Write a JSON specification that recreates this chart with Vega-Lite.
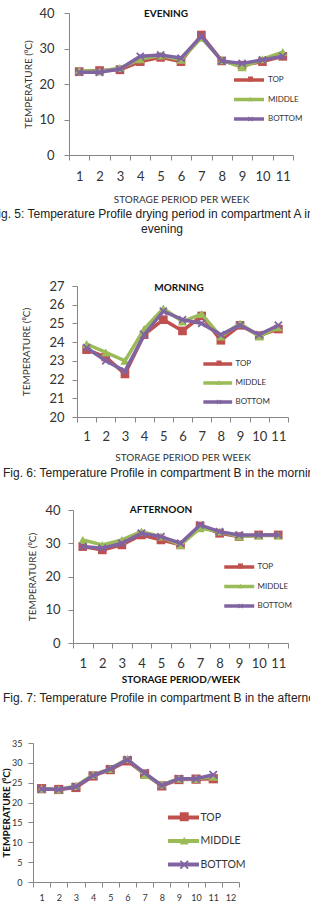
{
  "$schema": "https://vega.github.io/schema/vega-lite/v6.json",
  "padding": {"left": 0, "top": 7, "right": 0, "bottom": 0},
  "config": {
    "view": {"stroke": null},
    "font": "Lato",
    "axis": {"domainColor": "#868686", "tickColor": "#868686", "labelColor": "#333333", "titleColor": "#333333", "labelFont": "Lato", "titleFont": "Lato", "grid": false},
    "legend": {"labelFont": "Lato", "labelColor": "#333333"}
  },
  "datasets": {
    "evening": [
      {"week": 1, "series": "TOP", "temp": 23.5}, {"week": 1, "series": "MIDDLE", "temp": 23.8}, {"week": 1, "series": "BOTTOM", "temp": 23.3},
      {"week": 2, "series": "TOP", "temp": 23.8}, {"week": 2, "series": "MIDDLE", "temp": 23.5}, {"week": 2, "series": "BOTTOM", "temp": 23.3},
      {"week": 3, "series": "TOP", "temp": 24.0}, {"week": 3, "series": "MIDDLE", "temp": 24.5}, {"week": 3, "series": "BOTTOM", "temp": 24.2},
      {"week": 4, "series": "TOP", "temp": 26.3}, {"week": 4, "series": "MIDDLE", "temp": 27.0}, {"week": 4, "series": "BOTTOM", "temp": 27.8},
      {"week": 5, "series": "TOP", "temp": 27.5}, {"week": 5, "series": "MIDDLE", "temp": 28.0}, {"week": 5, "series": "BOTTOM", "temp": 28.2},
      {"week": 6, "series": "TOP", "temp": 26.3}, {"week": 6, "series": "MIDDLE", "temp": 26.8}, {"week": 6, "series": "BOTTOM", "temp": 27.3},
      {"week": 7, "series": "TOP", "temp": 33.8}, {"week": 7, "series": "MIDDLE", "temp": 33.0}, {"week": 7, "series": "BOTTOM", "temp": 33.5},
      {"week": 8, "series": "TOP", "temp": 26.5}, {"week": 8, "series": "MIDDLE", "temp": 26.7}, {"week": 8, "series": "BOTTOM", "temp": 26.5},
      {"week": 9, "series": "TOP", "temp": 25.3}, {"week": 9, "series": "MIDDLE", "temp": 24.7}, {"week": 9, "series": "BOTTOM", "temp": 25.8},
      {"week": 10, "series": "TOP", "temp": 26.3}, {"week": 10, "series": "MIDDLE", "temp": 27.0}, {"week": 10, "series": "BOTTOM", "temp": 26.8},
      {"week": 11, "series": "TOP", "temp": 27.8}, {"week": 11, "series": "MIDDLE", "temp": 29.0}, {"week": 11, "series": "BOTTOM", "temp": 27.8}
    ],
    "morning": [
      {"week": 1, "series": "TOP", "temp": 23.6}, {"week": 1, "series": "MIDDLE", "temp": 23.9}, {"week": 1, "series": "BOTTOM", "temp": 23.7},
      {"week": 2, "series": "TOP", "temp": 23.2}, {"week": 2, "series": "MIDDLE", "temp": 23.45}, {"week": 2, "series": "BOTTOM", "temp": 23.0},
      {"week": 3, "series": "TOP", "temp": 22.3}, {"week": 3, "series": "MIDDLE", "temp": 23.0}, {"week": 3, "series": "BOTTOM", "temp": 22.45},
      {"week": 4, "series": "TOP", "temp": 24.4}, {"week": 4, "series": "MIDDLE", "temp": 24.7}, {"week": 4, "series": "BOTTOM", "temp": 24.4},
      {"week": 5, "series": "TOP", "temp": 25.2}, {"week": 5, "series": "MIDDLE", "temp": 25.8}, {"week": 5, "series": "BOTTOM", "temp": 25.65},
      {"week": 6, "series": "TOP", "temp": 24.6}, {"week": 6, "series": "MIDDLE", "temp": 25.1}, {"week": 6, "series": "BOTTOM", "temp": 25.2},
      {"week": 7, "series": "TOP", "temp": 25.4}, {"week": 7, "series": "MIDDLE", "temp": 25.5}, {"week": 7, "series": "BOTTOM", "temp": 25.0},
      {"week": 8, "series": "TOP", "temp": 24.1}, {"week": 8, "series": "MIDDLE", "temp": 24.3}, {"week": 8, "series": "BOTTOM", "temp": 24.4},
      {"week": 9, "series": "TOP", "temp": 24.9}, {"week": 9, "series": "MIDDLE", "temp": 25.0}, {"week": 9, "series": "BOTTOM", "temp": 24.9},
      {"week": 10, "series": "TOP", "temp": 24.35}, {"week": 10, "series": "MIDDLE", "temp": 24.3}, {"week": 10, "series": "BOTTOM", "temp": 24.4},
      {"week": 11, "series": "TOP", "temp": 24.7}, {"week": 11, "series": "MIDDLE", "temp": 24.8}, {"week": 11, "series": "BOTTOM", "temp": 24.9}
    ],
    "afternoon": [
      {"week": 1, "series": "TOP", "temp": 29.0}, {"week": 1, "series": "MIDDLE", "temp": 31.0}, {"week": 1, "series": "BOTTOM", "temp": 29.0},
      {"week": 2, "series": "TOP", "temp": 28.0}, {"week": 2, "series": "MIDDLE", "temp": 29.5}, {"week": 2, "series": "BOTTOM", "temp": 28.5},
      {"week": 3, "series": "TOP", "temp": 29.5}, {"week": 3, "series": "MIDDLE", "temp": 31.0}, {"week": 3, "series": "BOTTOM", "temp": 30.0},
      {"week": 4, "series": "TOP", "temp": 32.5}, {"week": 4, "series": "MIDDLE", "temp": 33.5}, {"week": 4, "series": "BOTTOM", "temp": 33.0},
      {"week": 5, "series": "TOP", "temp": 31.0}, {"week": 5, "series": "MIDDLE", "temp": 32.0}, {"week": 5, "series": "BOTTOM", "temp": 32.0},
      {"week": 6, "series": "TOP", "temp": 29.5}, {"week": 6, "series": "MIDDLE", "temp": 29.5}, {"week": 6, "series": "BOTTOM", "temp": 30.0},
      {"week": 7, "series": "TOP", "temp": 35.2}, {"week": 7, "series": "MIDDLE", "temp": 34.5}, {"week": 7, "series": "BOTTOM", "temp": 35.5},
      {"week": 8, "series": "TOP", "temp": 33.0}, {"week": 8, "series": "MIDDLE", "temp": 33.5}, {"week": 8, "series": "BOTTOM", "temp": 33.5},
      {"week": 9, "series": "TOP", "temp": 32.0}, {"week": 9, "series": "MIDDLE", "temp": 32.0}, {"week": 9, "series": "BOTTOM", "temp": 32.5},
      {"week": 10, "series": "TOP", "temp": 32.5}, {"week": 10, "series": "MIDDLE", "temp": 32.3}, {"week": 10, "series": "BOTTOM", "temp": 32.5},
      {"week": 11, "series": "TOP", "temp": 32.5}, {"week": 11, "series": "MIDDLE", "temp": 32.3}, {"week": 11, "series": "BOTTOM", "temp": 32.5}
    ],
    "fig8": [
      {"week": 1, "series": "TOP", "temp": 23.5}, {"week": 1, "series": "MIDDLE", "temp": 23.5}, {"week": 1, "series": "BOTTOM", "temp": 23.4},
      {"week": 2, "series": "TOP", "temp": 23.3}, {"week": 2, "series": "MIDDLE", "temp": 23.3}, {"week": 2, "series": "BOTTOM", "temp": 23.3},
      {"week": 3, "series": "TOP", "temp": 23.8}, {"week": 3, "series": "MIDDLE", "temp": 24.2}, {"week": 3, "series": "BOTTOM", "temp": 24.0},
      {"week": 4, "series": "TOP", "temp": 26.7}, {"week": 4, "series": "MIDDLE", "temp": 27.0}, {"week": 4, "series": "BOTTOM", "temp": 26.8},
      {"week": 5, "series": "TOP", "temp": 28.3}, {"week": 5, "series": "MIDDLE", "temp": 28.5}, {"week": 5, "series": "BOTTOM", "temp": 28.5},
      {"week": 6, "series": "TOP", "temp": 30.5}, {"week": 6, "series": "MIDDLE", "temp": 31.0}, {"week": 6, "series": "BOTTOM", "temp": 30.8},
      {"week": 7, "series": "TOP", "temp": 27.2}, {"week": 7, "series": "MIDDLE", "temp": 27.0}, {"week": 7, "series": "BOTTOM", "temp": 27.5},
      {"week": 8, "series": "TOP", "temp": 24.2}, {"week": 8, "series": "MIDDLE", "temp": 24.5}, {"week": 8, "series": "BOTTOM", "temp": 24.3},
      {"week": 9, "series": "TOP", "temp": 25.8}, {"week": 9, "series": "MIDDLE", "temp": 26.0}, {"week": 9, "series": "BOTTOM", "temp": 26.0},
      {"week": 10, "series": "TOP", "temp": 25.9}, {"week": 10, "series": "MIDDLE", "temp": 26.0}, {"week": 10, "series": "BOTTOM", "temp": 26.0},
      {"week": 11, "series": "TOP", "temp": 26.0}, {"week": 11, "series": "MIDDLE", "temp": 26.5}, {"week": 11, "series": "BOTTOM", "temp": 27.0}
    ]
  },
  "spacing": 0,
  "resolve": {"scale": {"stroke": "independent", "fill": "independent", "shape": "independent"}},
  "vconcat": [
    {
      "spacing": 0,
      "resolve": {"scale": {"stroke": "independent", "fill": "independent", "shape": "independent"}},
      "hconcat": [
        {"width": 23, "height": 10, "data": {"values": []}, "mark": "point"},
        {
          "width": 224, "height": 142,
          "data": {"name": "evening"},
          "title": {"text": "EVENING", "frame": "group", "anchor": "middle", "offset": -17, "baseline": "middle", "dx": -15, "fontSize": 10, "fontWeight": "bold", "font": "Lato", "color": "#111111"},
          "encoding": {
            "x": {"field": "week", "type": "ordinal", "scale": {"type": "band", "domain": [1,2,3,4,5,6,7,8,9,10,11], "paddingInner": 0, "paddingOuter": 0},
                  "axis": {"title": "STORAGE PERIOD PER WEEK", "labelAngle": 0, "labelFontSize": 13, "labelPadding": 10, "tickBand": "extent", "tickSize": 5, "titleFontSize": 10, "titleFontWeight": "normal", "titlePadding": 11}},
            "y": {"field": "temp", "type": "quantitative", "scale": {"domain": [0, 40], "nice": false},
                  "axis": {"title": "TEMPERATURE (⁰C)", "values": [0,10,20,30,40], "labelFontSize": 13, "labelPadding": 10, "tickSize": 5, "titleFontSize": 10, "titleFontWeight": "normal", "titlePadding": 5}}
          },
          "layer": [
            {"transform": [{"filter": {"field": "series", "equal": "TOP"}}], "mark": {"type": "line", "strokeWidth": 3.5},
             "encoding": {"stroke": {"field": "series", "type": "nominal", "scale": {"domain": ["TOP","MIDDLE","BOTTOM"], "range": ["#C0504D","#9BBB59","#8064A2"]},
               "legend": {"title": null, "orient": "none", "legendX": 174, "legendY": 61, "symbolType": "M-3.75,0H3.75", "symbolSize": 64, "symbolStrokeWidth": 3.5, "labelFontSize": 8, "labelOffset": 13, "rowPadding": 5.5, "padding": 0}}}},
            {"transform": [{"filter": {"field": "series", "equal": "TOP"}}], "mark": {"type": "point", "filled": true, "size": 75, "opacity": 1},
             "encoding": {
               "fill": {"field": "series", "type": "nominal", "scale": {"domain": ["BOTTOM","MIDDLE","TOP"], "range": ["#8064A2","#9BBB59","#C0504D"]},
                 "legend": {"title": null, "orient": "none", "legendX": 177.5, "legendY": 62, "values": ["TOP","MIDDLE","BOTTOM"], "symbolSize": 25, "labelExpr": "''", "labelOpacity": 0, "labelFontSize": 8, "rowPadding": 12, "padding": 0, "symbolStrokeWidth": 0}},
               "shape": {"field": "series", "type": "nominal", "scale": {"domain": ["BOTTOM","MIDDLE","TOP"], "range": ["M-1,-0.7L-0.7,-1L0,-0.3L0.7,-1L1,-0.7L0.3,0L1,0.7L0.7,1L0,0.3L-0.7,1L-1,0.7L-0.3,0Z","triangle-up","square"]},
                 "legend": {"title": null, "orient": "none", "legendX": 177.5, "legendY": 62, "values": ["TOP","MIDDLE","BOTTOM"], "symbolSize": 25, "labelExpr": "''", "labelOpacity": 0, "labelFontSize": 8, "rowPadding": 12, "padding": 0, "symbolStrokeWidth": 0}}}},
            {"transform": [{"filter": {"field": "series", "equal": "MIDDLE"}}], "mark": {"type": "line", "strokeWidth": 3.5},
             "encoding": {"stroke": {"field": "series", "type": "nominal", "scale": {"domain": ["TOP","MIDDLE","BOTTOM"], "range": ["#C0504D","#9BBB59","#8064A2"]},
               "legend": {"title": null, "orient": "none", "legendX": 174, "legendY": 61, "symbolType": "M-3.75,0H3.75", "symbolSize": 64, "symbolStrokeWidth": 3.5, "labelFontSize": 8, "labelOffset": 13, "rowPadding": 5.5, "padding": 0}}}},
            {"transform": [{"filter": {"field": "series", "equal": "MIDDLE"}}], "mark": {"type": "point", "filled": true, "size": 85, "opacity": 1},
             "encoding": {
               "fill": {"field": "series", "type": "nominal", "scale": {"domain": ["BOTTOM","MIDDLE","TOP"], "range": ["#8064A2","#9BBB59","#C0504D"]},
                 "legend": {"title": null, "orient": "none", "legendX": 177.5, "legendY": 62, "values": ["TOP","MIDDLE","BOTTOM"], "symbolSize": 25, "labelExpr": "''", "labelOpacity": 0, "labelFontSize": 8, "rowPadding": 12, "padding": 0, "symbolStrokeWidth": 0}},
               "shape": {"field": "series", "type": "nominal", "scale": {"domain": ["BOTTOM","MIDDLE","TOP"], "range": ["M-1,-0.7L-0.7,-1L0,-0.3L0.7,-1L1,-0.7L0.3,0L1,0.7L0.7,1L0,0.3L-0.7,1L-1,0.7L-0.3,0Z","triangle-up","square"]},
                 "legend": {"title": null, "orient": "none", "legendX": 177.5, "legendY": 62, "values": ["TOP","MIDDLE","BOTTOM"], "symbolSize": 25, "labelExpr": "''", "labelOpacity": 0, "labelFontSize": 8, "rowPadding": 12, "padding": 0, "symbolStrokeWidth": 0}}}},
            {"transform": [{"filter": {"field": "series", "equal": "BOTTOM"}}], "mark": {"type": "line", "strokeWidth": 3.5},
             "encoding": {"stroke": {"field": "series", "type": "nominal", "scale": {"domain": ["TOP","MIDDLE","BOTTOM"], "range": ["#C0504D","#9BBB59","#8064A2"]},
               "legend": {"title": null, "orient": "none", "legendX": 174, "legendY": 61, "symbolType": "M-3.75,0H3.75", "symbolSize": 64, "symbolStrokeWidth": 3.5, "labelFontSize": 8, "labelOffset": 13, "rowPadding": 5.5, "padding": 0}}}},
            {"transform": [{"filter": {"field": "series", "equal": "BOTTOM"}}], "mark": {"type": "point", "filled": true, "size": 70, "opacity": 1},
             "encoding": {
               "fill": {"field": "series", "type": "nominal", "scale": {"domain": ["BOTTOM","MIDDLE","TOP"], "range": ["#8064A2","#9BBB59","#C0504D"]},
                 "legend": {"title": null, "orient": "none", "legendX": 177.5, "legendY": 62, "values": ["TOP","MIDDLE","BOTTOM"], "symbolSize": 25, "labelExpr": "''", "labelOpacity": 0, "labelFontSize": 8, "rowPadding": 12, "padding": 0, "symbolStrokeWidth": 0}},
               "shape": {"field": "series", "type": "nominal", "scale": {"domain": ["BOTTOM","MIDDLE","TOP"], "range": ["M-1,-0.7L-0.7,-1L0,-0.3L0.7,-1L1,-0.7L0.3,0L1,0.7L0.7,1L0,0.3L-0.7,1L-1,0.7L-0.3,0Z","triangle-up","square"]},
                 "legend": {"title": null, "orient": "none", "legendX": 177.5, "legendY": 62, "values": ["TOP","MIDDLE","BOTTOM"], "symbolSize": 25, "labelExpr": "''", "labelOpacity": 0, "labelFontSize": 8, "rowPadding": 12, "padding": 0, "symbolStrokeWidth": 0}}}}
          ]
        }
      ]
    },
    {
      "width": 310, "height": 76,
      "layer": [
        {"data": {"values": [{"t": "Fig. 5: Temperature Profile drying period in compartment A in the"}]},
         "mark": {"type": "text", "clip": true, "align": "left", "dx": -164, "dy": -28.5, "font": "Liberation Sans", "fontSize": 12, "color": "#222222"},
         "encoding": {"text": {"field": "t"}}},
        {"data": {"values": [{"t": "evening"}]},
         "mark": {"type": "text", "clip": true, "align": "center", "dx": 7, "dy": -13.5, "font": "Liberation Sans", "fontSize": 12, "color": "#222222"},
         "encoding": {"text": {"field": "t"}}}
      ]
    },
    {
      "spacing": 0,
      "resolve": {"scale": {"stroke": "independent", "fill": "independent", "shape": "independent"}},
      "hconcat": [
        {"width": 21, "height": 10, "data": {"values": []}, "mark": "point"},
        {
          "width": 211, "height": 131,
          "data": {"name": "morning"},
          "title": {"text": "MORNING", "frame": "group", "anchor": "middle", "offset": -18, "baseline": "middle", "dx": -3.5, "fontSize": 10, "fontWeight": "bold", "font": "Lato", "color": "#111111"},
          "encoding": {
            "x": {"field": "week", "type": "ordinal", "scale": {"type": "band", "domain": [1,2,3,4,5,6,7,8,9,10,11], "paddingInner": 0, "paddingOuter": 0},
                  "axis": {"title": "STORAGE PERIOD PER WEEK", "labelAngle": 0, "labelFontSize": 13, "labelPadding": 8.5, "tickBand": "extent", "tickSize": 5, "titleFontSize": 10, "titleFontWeight": "normal", "titlePadding": 9}},
            "y": {"field": "temp", "type": "quantitative", "scale": {"domain": [20, 27], "nice": false, "zero": false},
                  "axis": {"title": "TEMPERATURE (⁰C)", "values": [20,21,22,23,24,25,26,27], "labelFontSize": 13, "labelPadding": 8, "tickSize": 5, "titleFontSize": 10, "titleFontWeight": "normal", "titlePadding": 17}}
          },
          "layer": [
            {"transform": [{"filter": {"field": "series", "equal": "TOP"}}], "mark": {"type": "line", "strokeWidth": 3.5},
             "encoding": {"stroke": {"field": "series", "type": "nominal", "scale": {"domain": ["TOP","MIDDLE","BOTTOM"], "range": ["#C0504D","#9BBB59","#8064A2"]},
               "legend": {"title": null, "orient": "none", "legendX": 134.75, "legendY": 72, "symbolType": "M-3.6,0H3.6", "symbolSize": 64, "symbolStrokeWidth": 3.5, "labelFontSize": 8, "labelOffset": 11.75, "rowPadding": 5, "padding": 0}}}},
            {"transform": [{"filter": {"field": "series", "equal": "TOP"}}], "mark": {"type": "point", "filled": true, "size": 75, "opacity": 1},
             "encoding": {
               "fill": {"field": "series", "type": "nominal", "scale": {"domain": ["BOTTOM","MIDDLE","TOP"], "range": ["#8064A2","#9BBB59","#C0504D"]},
                 "legend": {"title": null, "orient": "none", "legendX": 138, "legendY": 73, "values": ["TOP","MIDDLE","BOTTOM"], "symbolSize": 25, "labelExpr": "''", "labelOpacity": 0, "labelFontSize": 8, "rowPadding": 11.5, "padding": 0, "symbolStrokeWidth": 0}},
               "shape": {"field": "series", "type": "nominal", "scale": {"domain": ["BOTTOM","MIDDLE","TOP"], "range": ["M-1,-0.7L-0.7,-1L0,-0.3L0.7,-1L1,-0.7L0.3,0L1,0.7L0.7,1L0,0.3L-0.7,1L-1,0.7L-0.3,0Z","triangle-up","square"]},
                 "legend": {"title": null, "orient": "none", "legendX": 138, "legendY": 73, "values": ["TOP","MIDDLE","BOTTOM"], "symbolSize": 25, "labelExpr": "''", "labelOpacity": 0, "labelFontSize": 8, "rowPadding": 11.5, "padding": 0, "symbolStrokeWidth": 0}}}},
            {"transform": [{"filter": {"field": "series", "equal": "MIDDLE"}}], "mark": {"type": "line", "strokeWidth": 3.5},
             "encoding": {"stroke": {"field": "series", "type": "nominal", "scale": {"domain": ["TOP","MIDDLE","BOTTOM"], "range": ["#C0504D","#9BBB59","#8064A2"]},
               "legend": {"title": null, "orient": "none", "legendX": 134.75, "legendY": 72, "symbolType": "M-3.6,0H3.6", "symbolSize": 64, "symbolStrokeWidth": 3.5, "labelFontSize": 8, "labelOffset": 11.75, "rowPadding": 5, "padding": 0}}}},
            {"transform": [{"filter": {"field": "series", "equal": "MIDDLE"}}], "mark": {"type": "point", "filled": true, "size": 85, "opacity": 1},
             "encoding": {
               "fill": {"field": "series", "type": "nominal", "scale": {"domain": ["BOTTOM","MIDDLE","TOP"], "range": ["#8064A2","#9BBB59","#C0504D"]},
                 "legend": {"title": null, "orient": "none", "legendX": 138, "legendY": 73, "values": ["TOP","MIDDLE","BOTTOM"], "symbolSize": 25, "labelExpr": "''", "labelOpacity": 0, "labelFontSize": 8, "rowPadding": 11.5, "padding": 0, "symbolStrokeWidth": 0}},
               "shape": {"field": "series", "type": "nominal", "scale": {"domain": ["BOTTOM","MIDDLE","TOP"], "range": ["M-1,-0.7L-0.7,-1L0,-0.3L0.7,-1L1,-0.7L0.3,0L1,0.7L0.7,1L0,0.3L-0.7,1L-1,0.7L-0.3,0Z","triangle-up","square"]},
                 "legend": {"title": null, "orient": "none", "legendX": 138, "legendY": 73, "values": ["TOP","MIDDLE","BOTTOM"], "symbolSize": 25, "labelExpr": "''", "labelOpacity": 0, "labelFontSize": 8, "rowPadding": 11.5, "padding": 0, "symbolStrokeWidth": 0}}}},
            {"transform": [{"filter": {"field": "series", "equal": "BOTTOM"}}], "mark": {"type": "line", "strokeWidth": 3.5},
             "encoding": {"stroke": {"field": "series", "type": "nominal", "scale": {"domain": ["TOP","MIDDLE","BOTTOM"], "range": ["#C0504D","#9BBB59","#8064A2"]},
               "legend": {"title": null, "orient": "none", "legendX": 134.75, "legendY": 72, "symbolType": "M-3.6,0H3.6", "symbolSize": 64, "symbolStrokeWidth": 3.5, "labelFontSize": 8, "labelOffset": 11.75, "rowPadding": 5, "padding": 0}}}},
            {"transform": [{"filter": {"field": "series", "equal": "BOTTOM"}}], "mark": {"type": "point", "filled": true, "size": 70, "opacity": 1},
             "encoding": {
               "fill": {"field": "series", "type": "nominal", "scale": {"domain": ["BOTTOM","MIDDLE","TOP"], "range": ["#8064A2","#9BBB59","#C0504D"]},
                 "legend": {"title": null, "orient": "none", "legendX": 138, "legendY": 73, "values": ["TOP","MIDDLE","BOTTOM"], "symbolSize": 25, "labelExpr": "''", "labelOpacity": 0, "labelFontSize": 8, "rowPadding": 11.5, "padding": 0, "symbolStrokeWidth": 0}},
               "shape": {"field": "series", "type": "nominal", "scale": {"domain": ["BOTTOM","MIDDLE","TOP"], "range": ["M-1,-0.7L-0.7,-1L0,-0.3L0.7,-1L1,-0.7L0.3,0L1,0.7L0.7,1L0,0.3L-0.7,1L-1,0.7L-0.3,0Z","triangle-up","square"]},
                 "legend": {"title": null, "orient": "none", "legendX": 138, "legendY": 73, "values": ["TOP","MIDDLE","BOTTOM"], "symbolSize": 25, "labelExpr": "''", "labelOpacity": 0, "labelFontSize": 8, "rowPadding": 11.5, "padding": 0, "symbolStrokeWidth": 0}}}}
          ]
        }
      ]
    },
    {
      "width": 310, "height": 41,
      "layer": [
        {"data": {"values": [{"t": "Fig. 6: Temperature Profile in compartment B in the morning"}]},
         "mark": {"type": "text", "clip": true, "align": "left", "dx": -152, "dy": -10.5, "font": "Liberation Sans", "fontSize": 12, "color": "#222222"},
         "encoding": {"text": {"field": "t"}}}
      ]
    },
    {
      "spacing": 0,
      "resolve": {"scale": {"stroke": "independent", "fill": "independent", "shape": "independent"}},
      "hconcat": [
        {"width": 27, "height": 10, "data": {"values": []}, "mark": "point"},
        {
          "width": 215, "height": 133,
          "data": {"name": "afternoon"},
          "title": {"text": "AFTERNOON", "frame": "group", "anchor": "middle", "offset": -16, "baseline": "middle", "dx": -19.5, "fontSize": 10, "fontWeight": "bold", "font": "Lato", "color": "#111111"},
          "encoding": {
            "x": {"field": "week", "type": "ordinal", "scale": {"type": "band", "domain": [1,2,3,4,5,6,7,8,9,10,11], "paddingInner": 0, "paddingOuter": 0},
                  "axis": {"title": "STORAGE PERIOD/WEEK", "labelAngle": 0, "labelFontSize": 13, "labelPadding": 9.5, "tickBand": "extent", "tickSize": 5, "titleFontSize": 10, "titleFontWeight": "bold", "titleColor": "#111111", "titlePadding": 3.5}},
            "y": {"field": "temp", "type": "quantitative", "scale": {"domain": [0, 40], "nice": false},
                  "axis": {"title": "TEMPERATURE (⁰C)", "values": [0,10,20,30,40], "labelFontSize": 13, "labelPadding": 8, "tickSize": 5, "titleFontSize": 10, "titleFontWeight": "normal", "titlePadding": 7}}
          },
          "layer": [
            {"transform": [{"filter": {"field": "series", "equal": "TOP"}}], "mark": {"type": "line", "strokeWidth": 3.5},
             "encoding": {"stroke": {"field": "series", "type": "nominal", "scale": {"domain": ["TOP","MIDDLE","BOTTOM"], "range": ["#C0504D","#9BBB59","#8064A2"]},
               "legend": {"title": null, "orient": "none", "legendX": 160.25, "legendY": 51, "symbolType": "M-3.75,0H3.75", "symbolSize": 64, "symbolStrokeWidth": 3.5, "labelFontSize": 8, "labelOffset": 12.25, "rowPadding": 5.5, "padding": 0}}}},
            {"transform": [{"filter": {"field": "series", "equal": "TOP"}}], "mark": {"type": "point", "filled": true, "size": 75, "opacity": 1},
             "encoding": {
               "fill": {"field": "series", "type": "nominal", "scale": {"domain": ["BOTTOM","MIDDLE","TOP"], "range": ["#8064A2","#9BBB59","#C0504D"]},
                 "legend": {"title": null, "orient": "none", "legendX": 163.5, "legendY": 52, "values": ["TOP","MIDDLE","BOTTOM"], "symbolSize": 25, "labelExpr": "''", "labelOpacity": 0, "labelFontSize": 8, "rowPadding": 12, "padding": 0, "symbolStrokeWidth": 0}},
               "shape": {"field": "series", "type": "nominal", "scale": {"domain": ["BOTTOM","MIDDLE","TOP"], "range": ["M-1,-0.7L-0.7,-1L0,-0.3L0.7,-1L1,-0.7L0.3,0L1,0.7L0.7,1L0,0.3L-0.7,1L-1,0.7L-0.3,0Z","triangle-up","square"]},
                 "legend": {"title": null, "orient": "none", "legendX": 163.5, "legendY": 52, "values": ["TOP","MIDDLE","BOTTOM"], "symbolSize": 25, "labelExpr": "''", "labelOpacity": 0, "labelFontSize": 8, "rowPadding": 12, "padding": 0, "symbolStrokeWidth": 0}}}},
            {"transform": [{"filter": {"field": "series", "equal": "MIDDLE"}}], "mark": {"type": "line", "strokeWidth": 3.5},
             "encoding": {"stroke": {"field": "series", "type": "nominal", "scale": {"domain": ["TOP","MIDDLE","BOTTOM"], "range": ["#C0504D","#9BBB59","#8064A2"]},
               "legend": {"title": null, "orient": "none", "legendX": 160.25, "legendY": 51, "symbolType": "M-3.75,0H3.75", "symbolSize": 64, "symbolStrokeWidth": 3.5, "labelFontSize": 8, "labelOffset": 12.25, "rowPadding": 5.5, "padding": 0}}}},
            {"transform": [{"filter": {"field": "series", "equal": "MIDDLE"}}], "mark": {"type": "point", "filled": true, "size": 85, "opacity": 1},
             "encoding": {
               "fill": {"field": "series", "type": "nominal", "scale": {"domain": ["BOTTOM","MIDDLE","TOP"], "range": ["#8064A2","#9BBB59","#C0504D"]},
                 "legend": {"title": null, "orient": "none", "legendX": 163.5, "legendY": 52, "values": ["TOP","MIDDLE","BOTTOM"], "symbolSize": 25, "labelExpr": "''", "labelOpacity": 0, "labelFontSize": 8, "rowPadding": 12, "padding": 0, "symbolStrokeWidth": 0}},
               "shape": {"field": "series", "type": "nominal", "scale": {"domain": ["BOTTOM","MIDDLE","TOP"], "range": ["M-1,-0.7L-0.7,-1L0,-0.3L0.7,-1L1,-0.7L0.3,0L1,0.7L0.7,1L0,0.3L-0.7,1L-1,0.7L-0.3,0Z","triangle-up","square"]},
                 "legend": {"title": null, "orient": "none", "legendX": 163.5, "legendY": 52, "values": ["TOP","MIDDLE","BOTTOM"], "symbolSize": 25, "labelExpr": "''", "labelOpacity": 0, "labelFontSize": 8, "rowPadding": 12, "padding": 0, "symbolStrokeWidth": 0}}}},
            {"transform": [{"filter": {"field": "series", "equal": "BOTTOM"}}], "mark": {"type": "line", "strokeWidth": 3.5},
             "encoding": {"stroke": {"field": "series", "type": "nominal", "scale": {"domain": ["TOP","MIDDLE","BOTTOM"], "range": ["#C0504D","#9BBB59","#8064A2"]},
               "legend": {"title": null, "orient": "none", "legendX": 160.25, "legendY": 51, "symbolType": "M-3.75,0H3.75", "symbolSize": 64, "symbolStrokeWidth": 3.5, "labelFontSize": 8, "labelOffset": 12.25, "rowPadding": 5.5, "padding": 0}}}},
            {"transform": [{"filter": {"field": "series", "equal": "BOTTOM"}}], "mark": {"type": "point", "filled": true, "size": 70, "opacity": 1},
             "encoding": {
               "fill": {"field": "series", "type": "nominal", "scale": {"domain": ["BOTTOM","MIDDLE","TOP"], "range": ["#8064A2","#9BBB59","#C0504D"]},
                 "legend": {"title": null, "orient": "none", "legendX": 163.5, "legendY": 52, "values": ["TOP","MIDDLE","BOTTOM"], "symbolSize": 25, "labelExpr": "''", "labelOpacity": 0, "labelFontSize": 8, "rowPadding": 12, "padding": 0, "symbolStrokeWidth": 0}},
               "shape": {"field": "series", "type": "nominal", "scale": {"domain": ["BOTTOM","MIDDLE","TOP"], "range": ["M-1,-0.7L-0.7,-1L0,-0.3L0.7,-1L1,-0.7L0.3,0L1,0.7L0.7,1L0,0.3L-0.7,1L-1,0.7L-0.3,0Z","triangle-up","square"]},
                 "legend": {"title": null, "orient": "none", "legendX": 163.5, "legendY": 52, "values": ["TOP","MIDDLE","BOTTOM"], "symbolSize": 25, "labelExpr": "''", "labelOpacity": 0, "labelFontSize": 8, "rowPadding": 12, "padding": 0, "symbolStrokeWidth": 0}}}}
          ]
        }
      ]
    },
    {
      "width": 310, "height": 55,
      "layer": [
        {"data": {"values": [{"t": "Fig. 7: Temperature Profile in compartment B in the afternoon"}]},
         "mark": {"type": "text", "clip": true, "align": "left", "dx": -152, "dy": -13.5, "font": "Liberation Sans", "fontSize": 12, "color": "#222222"},
         "encoding": {"text": {"field": "t"}}}
      ]
    },
    {
      "spacing": 0,
      "resolve": {"scale": {"stroke": "independent", "fill": "independent", "shape": "independent"}},
      "hconcat": [
        {"width": 1, "height": 10, "data": {"values": []}, "mark": "point"},
        {
          "width": 206, "height": 139,
          "data": {"name": "fig8"},
          "encoding": {
            "x": {"field": "week", "type": "ordinal", "scale": {"type": "band", "domain": [1,2,3,4,5,6,7,8,9,10,11,12], "paddingInner": 0, "paddingOuter": 0},
                  "axis": {"title": null, "labelAngle": 0, "labelFontSize": 9, "labelPadding": 6.5, "tickBand": "extent", "tickSize": 5}},
            "y": {"field": "temp", "type": "quantitative", "scale": {"domain": [0, 35], "nice": false},
                  "axis": {"title": "TEMPERATURE (⁰C)", "values": [0,5,10,15,20,25,30,35], "labelFontSize": 9, "labelPadding": 6, "tickSize": 5, "titleFontSize": 10, "titleFontWeight": "bold", "titleColor": "#111111", "titlePadding": 0}}
          },
          "layer": [
            {"transform": [{"filter": {"field": "series", "equal": "TOP"}}], "mark": {"type": "line", "strokeWidth": 3.5},
             "encoding": {"stroke": {"field": "series", "type": "nominal", "scale": {"domain": ["TOP","MIDDLE","BOTTOM"], "range": ["#C0504D","#9BBB59","#8064A2"]},
               "legend": {"title": null, "orient": "none", "legendX": 143.5, "legendY": 67.5, "symbolType": "M-3.1,0H3.1", "symbolSize": 100, "symbolStrokeWidth": 4, "labelFontSize": 10.5, "labelOffset": 10, "rowPadding": 7.5, "padding": 0}}}},
            {"transform": [{"filter": {"field": "series", "equal": "TOP"}}], "mark": {"type": "point", "filled": true, "size": 85, "opacity": 1},
             "encoding": {
               "fill": {"field": "series", "type": "nominal", "scale": {"domain": ["BOTTOM","MIDDLE","TOP"], "range": ["#8064A2","#9BBB59","#C0504D"]},
                 "legend": {"title": null, "orient": "none", "legendX": 146, "legendY": 68.5, "values": ["TOP","MIDDLE","BOTTOM"], "symbolSize": 80, "labelExpr": "''", "labelOpacity": 0, "labelFontSize": 10.5, "rowPadding": 13, "padding": 0, "symbolStrokeWidth": 0}},
               "shape": {"field": "series", "type": "nominal", "scale": {"domain": ["BOTTOM","MIDDLE","TOP"], "range": ["M-1,-0.7L-0.7,-1L0,-0.3L0.7,-1L1,-0.7L0.3,0L1,0.7L0.7,1L0,0.3L-0.7,1L-1,0.7L-0.3,0Z","triangle-up","square"]},
                 "legend": {"title": null, "orient": "none", "legendX": 146, "legendY": 68.5, "values": ["TOP","MIDDLE","BOTTOM"], "symbolSize": 80, "labelExpr": "''", "labelOpacity": 0, "labelFontSize": 10.5, "rowPadding": 13, "padding": 0, "symbolStrokeWidth": 0}}}},
            {"transform": [{"filter": {"field": "series", "equal": "MIDDLE"}}], "mark": {"type": "line", "strokeWidth": 3.5},
             "encoding": {"stroke": {"field": "series", "type": "nominal", "scale": {"domain": ["TOP","MIDDLE","BOTTOM"], "range": ["#C0504D","#9BBB59","#8064A2"]},
               "legend": {"title": null, "orient": "none", "legendX": 143.5, "legendY": 67.5, "symbolType": "M-3.1,0H3.1", "symbolSize": 100, "symbolStrokeWidth": 4, "labelFontSize": 10.5, "labelOffset": 10, "rowPadding": 7.5, "padding": 0}}}},
            {"transform": [{"filter": {"field": "series", "equal": "MIDDLE"}}], "mark": {"type": "point", "filled": true, "size": 90, "opacity": 1},
             "encoding": {
               "fill": {"field": "series", "type": "nominal", "scale": {"domain": ["BOTTOM","MIDDLE","TOP"], "range": ["#8064A2","#9BBB59","#C0504D"]},
                 "legend": {"title": null, "orient": "none", "legendX": 146, "legendY": 68.5, "values": ["TOP","MIDDLE","BOTTOM"], "symbolSize": 80, "labelExpr": "''", "labelOpacity": 0, "labelFontSize": 10.5, "rowPadding": 13, "padding": 0, "symbolStrokeWidth": 0}},
               "shape": {"field": "series", "type": "nominal", "scale": {"domain": ["BOTTOM","MIDDLE","TOP"], "range": ["M-1,-0.7L-0.7,-1L0,-0.3L0.7,-1L1,-0.7L0.3,0L1,0.7L0.7,1L0,0.3L-0.7,1L-1,0.7L-0.3,0Z","triangle-up","square"]},
                 "legend": {"title": null, "orient": "none", "legendX": 146, "legendY": 68.5, "values": ["TOP","MIDDLE","BOTTOM"], "symbolSize": 80, "labelExpr": "''", "labelOpacity": 0, "labelFontSize": 10.5, "rowPadding": 13, "padding": 0, "symbolStrokeWidth": 0}}}},
            {"transform": [{"filter": {"field": "series", "equal": "BOTTOM"}}], "mark": {"type": "line", "strokeWidth": 3.5},
             "encoding": {"stroke": {"field": "series", "type": "nominal", "scale": {"domain": ["TOP","MIDDLE","BOTTOM"], "range": ["#C0504D","#9BBB59","#8064A2"]},
               "legend": {"title": null, "orient": "none", "legendX": 143.5, "legendY": 67.5, "symbolType": "M-3.1,0H3.1", "symbolSize": 100, "symbolStrokeWidth": 4, "labelFontSize": 10.5, "labelOffset": 10, "rowPadding": 7.5, "padding": 0}}}},
            {"transform": [{"filter": {"field": "series", "equal": "BOTTOM"}}], "mark": {"type": "point", "filled": true, "size": 75, "opacity": 1},
             "encoding": {
               "fill": {"field": "series", "type": "nominal", "scale": {"domain": ["BOTTOM","MIDDLE","TOP"], "range": ["#8064A2","#9BBB59","#C0504D"]},
                 "legend": {"title": null, "orient": "none", "legendX": 146, "legendY": 68.5, "values": ["TOP","MIDDLE","BOTTOM"], "symbolSize": 80, "labelExpr": "''", "labelOpacity": 0, "labelFontSize": 10.5, "rowPadding": 13, "padding": 0, "symbolStrokeWidth": 0}},
               "shape": {"field": "series", "type": "nominal", "scale": {"domain": ["BOTTOM","MIDDLE","TOP"], "range": ["M-1,-0.7L-0.7,-1L0,-0.3L0.7,-1L1,-0.7L0.3,0L1,0.7L0.7,1L0,0.3L-0.7,1L-1,0.7L-0.3,0Z","triangle-up","square"]},
                 "legend": {"title": null, "orient": "none", "legendX": 146, "legendY": 68.5, "values": ["TOP","MIDDLE","BOTTOM"], "symbolSize": 80, "labelExpr": "''", "labelOpacity": 0, "labelFontSize": 10.5, "rowPadding": 13, "padding": 0, "symbolStrokeWidth": 0}}}}
          ]
        }
      ]
    }
  ]
}
